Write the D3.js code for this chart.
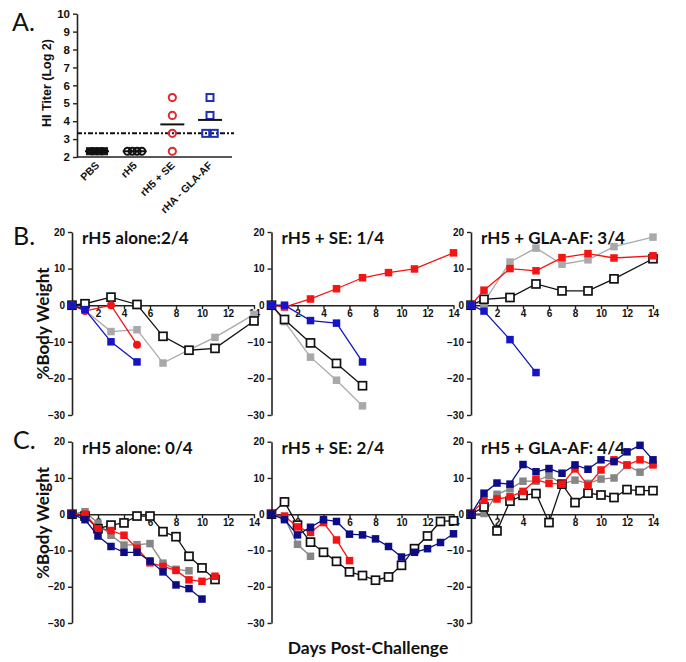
<!DOCTYPE html>
<html><head><meta charset="utf-8">
<script src="https://cdn.jsdelivr.net/npm/d3@7"></script>
<style>body{margin:0;background:#fff}svg{display:block}</style>
</head><body>
<script>
// ---------- Panel A data ----------
const aGroups = ["PBS", "rH5", "rH5 + SE", "rHA - GLA-AF"];
const aPBS = [2.32, 2.32, 2.32, 2.32];
const aRH5 = [2.32, 2.32, 2.32, 2.32];
const aSE = [5.32, 4.32, 3.32, 2.32];
const aGLA = [5.32, 4.32, 3.32, 3.32];
const aLimit = 3.32;
const aTicks = [2, 3, 4, 5, 6, 7, 8, 9, 10];

// ---------- Panel B data (days 0,1,3,5,7,9,11,14) ----------
const bDays = [0, 1, 3, 5, 7, 9, 11, 14];
const b1Gray = [0, -1.4, -7.2, -6.7, -15.8, -12.2, -8.8, -2.5];
const b1Black = [0, 0.4, 2.2, 0.2, -8.5, -12.3, -11.8, -4.3];
const b1Red = [0, -1.6, 0, -10.8];
const b1Blue = [0, -1.2, -10, -15.5];

const b2Gray = [0, -4.5, -14.2, -20.5, -27.5];
const b2Black = [0, -3.9, -10.3, -15.9, -22];
const b2Red = [0, -0.5, 1.7, 4.5, 7.5, 8.9, 9.9, 14.3];
const b2Blue = [0, 0, -4.2, -4.9, -15.5];

const b3Gray = [0, 0.8, 11.8, 15.6, 11.2, 12.4, 16, 18.6];
const b3Black = [0, 1.6, 2.1, 5.8, 3.9, 3.9, 7.2, 12.7];
const b3Red = [0, 4.1, 10, 9.4, 13, 14.1, 12.9, 13.5];
const b3Blue = [0, -1.6, -9.4, -18.4];

// ---------- Panel C data (daily, days 0..14) ----------
const cDays = [0, 1, 2, 3, 4, 5, 6, 7, 8, 9, 10, 11, 12, 13, 14];
const c1Gray = [0, 0.7, -2.5, -5.8, -8.5, -8.4, -8.1, -13.5, -15.2, -15.6];
const c1Black = [0, -0.5, -4, -3, -2.4, -0.5, -0.5, -4.8, -6.2, -11.6, -14.8, -18];
const c1Red = [0, 0, -4, -4.5, -5.8, -9.4, -13.4, -14.4, -15.5, -18.1, -18.5, -17.1];
const c1Navy = [0, -1.5, -6, -8.9, -10.5, -10.5, -12.9, -15.9, -19.5, -20.5, -23.4];

const c2Gray = [0, -1, -8.3, -11.6];
const c2Black = [0, 3.4, -3, -7.7, -10.5, -13, -15.9, -16.9, -18.2, -17.3, -14.1, -9.5, -6, -2, -1.8];
const c2Red = [0, -0.5, -3.5, -5, -2.3, -7.1, -12.8];
const c2Navy = [0, -1.5, -5.7, -3.6, -1.5, -2, -5.5, -5.7, -6.8, -8.9, -11.8, -10.5, -9.5, -7.8, -5.4];

const c3Gray = [0, 0.2, 5.5, 7, 9.1, 9.1, 10.7, 8.3, 9.4, 8.5, 9.7, 10, 13.5, 11.6, 13.9];
const c3Black = [0, 2, -4.6, 3.6, 5.2, 5.7, -2.3, 8.3, 3.2, 5.8, 5.3, 4.6, 6.8, 6.5, 6.5];
const c3Red = [0, 3.9, 4.2, 4.8, 6.3, 9.5, 8.5, 8.3, 12.5, 7.9, 12.2, 15, 13.6, 15, 13.6];
const c3Navy = [0, 5.8, 8.6, 8.3, 13.7, 11.7, 12.6, 11.3, 13.6, 12.4, 15, 14.5, 17.2, 19, 15];

const wTicksY = [-30, -20, -10, 0, 10, 20];
const wTicksX = [2, 4, 6, 8, 10, 12, 14];

const bTitles = ["rH5 alone:2/4", "rH5 + SE: 1/4", "rH5 + GLA-AF: 3/4"];
const cTitles = ["rH5 alone: 0/4", "rH5 + SE: 2/4", "rH5 + GLA-AF: 4/4"];

// ---------- drawing ----------
const W = 686, H = 662;
const svg = d3.select("body").append("svg").attr("width", W).attr("height", H);
const tickFont = "Liberation Sans, Arial, sans-serif";
const labFont = "Lato, 'Open Sans', sans-serif";
const axisCol = "#222";

// Panel letters
[["A.", 12, 31], ["B.", 13, 245], ["C.", 13, 449]].forEach(([t, x, y]) => {
  svg.append("text").attr("x", x).attr("y", y).text(t)
    .attr("font-family", labFont).attr("font-size", 25).attr("fill", "#111");
});

// ----- Panel A -----
(function () {
  const y = d3.scaleLinear().domain([2, 10]).range([157, 13.7]);
  const x = d3.scalePoint().domain(aGroups).range([97, 210]);
  const g = svg.append("g");
  const ax = g.append("g").attr("transform", "translate(77,0)")
    .call(d3.axisLeft(y).tickValues(aTicks).tickSize(4).tickSizeOuter(0).tickFormat(d3.format("d")));
  ax.select(".domain").attr("stroke", axisCol).attr("stroke-width", 1.6);
  ax.selectAll(".tick line").attr("stroke", axisCol).attr("stroke-width", 1.4);
  ax.selectAll("text").attr("font-family", tickFont).attr("font-weight", "bold").attr("font-size", 11.5).attr("fill", "#111");
  // x axis line
  g.append("line").attr("x1", 77).attr("x2", 232).attr("y1", 157).attr("y2", 157).attr("stroke", axisCol).attr("stroke-width", 1.6);
  // category labels
  aGroups.forEach(c => {
    g.append("text").attr("transform", `translate(${x(c) + 3},${166}) rotate(-45)`)
      .attr("text-anchor", "end").text(c)
      .attr("font-family", tickFont).attr("font-weight", "bold").attr("font-size", 10.5).attr("fill", "#111");
  });
  // y title
  g.append("text").attr("transform", "translate(51,83) rotate(-90)").attr("text-anchor", "middle")
    .text("HI Titer (Log 2)").attr("font-family", tickFont).attr("font-weight", "bold").attr("font-size", 12.5).attr("fill", "#111");
  // limit line
  g.append("line").attr("x1", 77).attr("x2", 234).attr("y1", y(aLimit)).attr("y2", y(aLimit))
    .attr("stroke", "#111").attr("stroke-width", 2).attr("stroke-dasharray", "5,2,2,2");
  // jitter helper
  function offsets(vals, step) {
    const counts = {}; const idx = {};
    vals.forEach(v => counts[v] = (counts[v] || 0) + 1);
    return vals.map(v => { idx[v] = (idx[v] || 0); const i = idx[v]++; const n = counts[v]; return (i - (n - 1) / 2) * step; });
  }
  const groups = [
    { vals: aPBS, c: aGroups[0], shape: "sq", fill: "#111", stroke: "#111", step: 4.7 },
    { vals: aRH5, c: aGroups[1], shape: "ci", fill: "none", stroke: "#111", step: 4.7 },
    { vals: aSE, c: aGroups[2], shape: "ci", fill: "none", stroke: "#e8252a", step: 8 },
    { vals: aGLA, c: aGroups[3], shape: "sq", fill: "none", stroke: "#1c2fb8", step: 8.5 }
  ];
  groups.forEach(gr => {
    const off = offsets(gr.vals, gr.step);
    gr.vals.forEach((v, i) => {
      const cx = x(gr.c) + off[i], cy = y(v);
      if (gr.shape === "sq") {
        const s = 7;
        g.append("rect").attr("x", cx - s / 2).attr("y", cy - s / 2).attr("width", s).attr("height", s)
          .attr("fill", gr.fill).attr("stroke", gr.stroke).attr("stroke-width", gr.fill === "none" ? 2 : 1);
      } else {
        g.append("circle").attr("cx", cx).attr("cy", cy).attr("r", 3.6)
          .attr("fill", gr.fill).attr("stroke", gr.stroke).attr("stroke-width", 2);
      }
    });
    const m = d3.mean(gr.vals);
    g.append("line").attr("x1", x(gr.c) - 12).attr("x2", x(gr.c) + 12).attr("y1", y(m)).attr("y2", y(m))
      .attr("stroke", "#111").attr("stroke-width", 2);
  });
})();

// ----- weight panels -----
function weightPanel(x0, yTop, yBot, title, days, series) {
  const x = d3.scaleLinear().domain([0, 14]).range([x0, x0 + 182]);
  const y = d3.scaleLinear().domain([-30, 20]).range([yBot, yTop]);
  const g = svg.append("g");
  const ay = g.append("g").attr("transform", `translate(${x0},0)`)
    .call(d3.axisLeft(y).tickValues(wTicksY).tickSize(4).tickSizeOuter(0));
  ay.select(".domain").attr("stroke", axisCol).attr("stroke-width", 1.6);
  ay.selectAll(".tick line").attr("stroke", axisCol).attr("stroke-width", 1.4);
  ay.selectAll("text").attr("font-family", tickFont).attr("font-weight", "bold").attr("font-size", 10).attr("fill", "#111");
  const axx = g.append("g").attr("transform", `translate(0,${y(0)})`)
    .call(d3.axisBottom(x).tickValues(wTicksX).tickSize(4).tickSizeOuter(0));
  axx.select(".domain").attr("stroke", axisCol).attr("stroke-width", 1.6);
  axx.selectAll(".tick line").attr("stroke", axisCol).attr("stroke-width", 1.4);
  axx.selectAll("text").attr("font-family", tickFont).attr("font-weight", "bold").attr("font-size", 10).attr("fill", "#111").attr("dy", "0.45em");
  g.append("text").attr("x", x0 + 10).attr("y", yTop + 12).text(title)
    .attr("font-family", labFont).attr("font-weight", "bold").attr("font-size", 17).attr("fill", "#111");
  series.forEach(s => {
    const pts = s.vals.map((v, i) => [days[i], v]);
    g.append("path").datum(pts)
      .attr("d", d3.line().x(d => x(d[0])).y(d => y(d[1])))
      .attr("fill", "none").attr("stroke", s.line).attr("stroke-width", 1.3);
    pts.forEach(p => {
      if (s.shape === "circle") {
        g.append("circle").attr("cx", x(p[0])).attr("cy", y(p[1])).attr("r", 4).attr("fill", s.fill);
      } else if (s.shape === "open") {
        const sz = 8;
        g.append("rect").attr("x", x(p[0]) - sz / 2).attr("y", y(p[1]) - sz / 2).attr("width", sz).attr("height", sz)
          .attr("fill", "#fff").attr("stroke", "#111").attr("stroke-width", 1.7);
      } else {
        const sz = 7.5;
        g.append("rect").attr("x", x(p[0]) - sz / 2).attr("y", y(p[1]) - sz / 2).attr("width", sz).attr("height", sz)
          .attr("fill", s.fill);
      }
    });
  });
}

const bBlue = "#1414c8", cNavy = "#0c0c86", red = "#f41414", grayB = "#a9a9a9", grayC = "#868686";
const xs = [72, 271.5, 471];
const bSets = [
  [b1Gray, b1Black, b1Red, b1Blue],
  [b2Gray, b2Black, b2Red, b2Blue],
  [b3Gray, b3Black, b3Red, b3Blue]
];
bSets.forEach((set, i) => {
  weightPanel(xs[i], 232, 415, bTitles[i], bDays, [
    { vals: set[0], shape: "sq", fill: grayB, line: grayB },
    { vals: set[1], shape: "open", fill: "#fff", line: "#111" },
    { vals: set[2], shape: i === 0 ? "circle" : "sq", fill: red, line: red },
    { vals: set[3], shape: "sq", fill: bBlue, line: bBlue }
  ]);
});
const cSets = [
  [c1Gray, c1Black, c1Red, c1Navy],
  [c2Gray, c2Black, c2Red, c2Navy],
  [c3Gray, c3Black, c3Red, c3Navy]
];
cSets.forEach((set, i) => {
  weightPanel(xs[i], 441.7, 623, cTitles[i], cDays, [
    { vals: set[0], shape: "sq", fill: grayC, line: grayC },
    { vals: set[1], shape: "open", fill: "#fff", line: "#111" },
    { vals: set[2], shape: "sq", fill: red, line: red },
    { vals: set[3], shape: "sq", fill: cNavy, line: cNavy }
  ]);
});

// axis titles
[323.5, 523].forEach(cy => {
  svg.append("text").attr("transform", `translate(49,${cy}) rotate(-90)`).attr("text-anchor", "middle")
    .text("%Body Weight").attr("font-family", labFont).attr("font-weight", "bold").attr("font-size", 17).attr("fill", "#111");
});
svg.append("text").attr("x", 368).attr("y", 654).attr("text-anchor", "middle")
  .text("Days Post-Challenge").attr("font-family", labFont).attr("font-weight", "bold").attr("font-size", 17.5).attr("fill", "#111");
</script>
</body></html>
